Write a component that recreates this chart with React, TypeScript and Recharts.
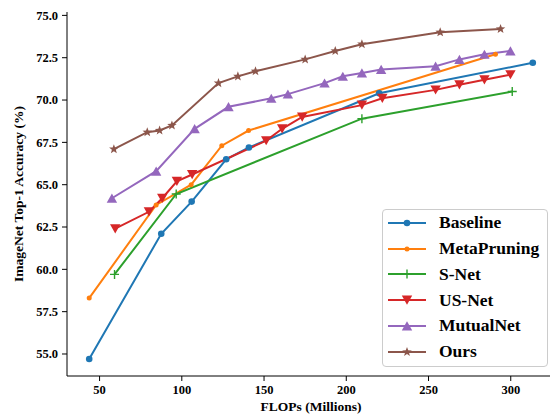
import React from 'react'
import { LineChart, Line, XAxis, YAxis, Legend, Label } from 'recharts'

const FONT = '"Liberation Serif", "Times New Roman", serif'

// FLOPs (Millions) / ImageNet top-1 (%)
const baselineFlops = [43.7, 87.5, 106, 127, 140.8, 220, 313.4]
const baselineAcc = [54.7, 62.1, 64.0, 66.5, 67.2, 70.4, 72.2]

const metaFlops = [43.7, 84.4, 105.7, 124.3, 140.6, 290.7]
const metaAcc = [58.3, 63.8, 65.0, 67.3, 68.2, 72.7]

const snetFlops = [59.1, 96.6, 209.5, 300.9]
const snetAcc = [59.7, 64.45, 68.9, 70.5]

const usnetFlops = [59.5, 80, 88.1, 97, 106.3, 151.3, 161, 173.2, 209.5, 221.9, 254.3, 268.8, 284, 299.8]
const usnetAcc = [62.4, 63.4, 64.2, 65.2, 65.6, 67.6, 68.3, 69.0, 69.7, 70.1, 70.6, 70.9, 71.2, 71.5]

const mutualFlops = [57.5, 84.4, 107.8, 128.4, 154.4, 164.5, 186.8, 197.9, 209.5, 221.2, 254.3, 268.8, 284, 299.8]
const mutualAcc = [64.2, 65.8, 68.3, 69.6, 70.1, 70.35, 71.0, 71.4, 71.6, 71.8, 72.0, 72.4, 72.7, 72.9]

const oursFlops = [58.7, 79, 86.5, 94, 122.3, 134.1, 144.8, 175, 193.3, 209.5, 257.1, 293.8]
const oursAcc = [67.1, 68.1, 68.2, 68.5, 71.0, 71.4, 71.7, 72.4, 72.9, 73.3, 74.0, 74.2]

const xTicks = [50, 100, 150, 200, 250, 300]
const yTicks = [55, 57.5, 60, 62.5, 65, 67.5, 70, 72.5, 75]

type Kind = 'circle' | 'dot' | 'plus' | 'down' | 'up' | 'star'

const zip = (xs: number[], ys: number[]) => xs.map((x, i) => ({ x, y: ys[i] }))

const series: { name: string; color: string; marker: Kind; data: { x: number; y: number }[] }[] = [
  { name: 'Baseline', color: '#1f77b4', marker: 'circle', data: zip(baselineFlops, baselineAcc) },
  { name: 'MetaPruning', color: '#ff7f0e', marker: 'dot', data: zip(metaFlops, metaAcc) },
  { name: 'S-Net', color: '#2ca02c', marker: 'plus', data: zip(snetFlops, snetAcc) },
  { name: 'US-Net', color: '#d62728', marker: 'down', data: zip(usnetFlops, usnetAcc) },
  { name: 'MutualNet', color: '#9467bd', marker: 'up', data: zip(mutualFlops, mutualAcc) },
  { name: 'Ours', color: '#8c564b', marker: 'star', data: zip(oursFlops, oursAcc) },
]

function Marker({ kind, cx, cy, color }: { kind: Kind; cx: number; cy: number; color: string }) {
  if (cx == null || cy == null) return null
  switch (kind) {
    case 'circle':
      return <circle cx={cx} cy={cy} r={3.3} fill={color} />
    case 'dot':
      return <circle cx={cx} cy={cy} r={2.5} fill={color} />
    case 'plus':
      return <path d={`M${cx - 4.5},${cy}H${cx + 4.5}M${cx},${cy - 4.5}V${cy + 4.5}`} stroke={color} strokeWidth={1.4} />
    case 'down':
      return <polygon points={`${cx - 5.2},${cy - 4.5} ${cx + 5.2},${cy - 4.5} ${cx},${cy + 4.7}`} fill={color} />
    case 'up':
      return <polygon points={`${cx - 5.2},${cy + 4.5} ${cx + 5.2},${cy + 4.5} ${cx},${cy - 4.7}`} fill={color} />
    case 'star': {
      const pts: string[] = []
      for (let i = 0; i < 10; i++) {
        const r = i % 2 === 0 ? 5 : 2.1
        const a = -Math.PI / 2 + (i * Math.PI) / 5
        pts.push(`${cx + r * Math.cos(a)},${cy + r * Math.sin(a)}`)
      }
      return <polygon points={pts.join(' ')} fill={color} />
    }
  }
  return null
}

function LegendBox() {
  return (
    <div
      style={{
        width: 166,
        height: 158,
        boxSizing: 'border-box',
        border: '1px solid #cccccc',
        borderRadius: 4,
        background: 'rgba(255,255,255,0.8)',
      }}
    >
      {series.map((s) => (
        <div key={s.name} style={{ display: 'flex', alignItems: 'center', height: 25.8 }}>
          <svg width={56} height={20} style={{ flexShrink: 0 }}>
            <line x1={5} x2={43} y1={10} y2={10} stroke={s.color} strokeWidth={2} />
            <Marker kind={s.marker} cx={24} cy={10} color={s.color} />
          </svg>
          <span style={{ fontFamily: FONT, fontWeight: 'bold', fontSize: 17.5, color: '#000', lineHeight: 1 }}>
            {s.name}
          </span>
        </div>
      ))}
    </div>
  )
}

const tickStyle = { fontFamily: FONT, fontWeight: 'bold' as const, fontSize: 12.5, fill: '#000' }

export default function App() {
  return (
    <div style={{ position: 'fixed', left: 0, top: 0, width: 550, height: 417, overflow: 'hidden', background: '#fff' }}>
      <LineChart width={570} height={417} margin={{ top: 12, right: 15, bottom: 0, left: 0 }}>
        <XAxis
          type="number"
          dataKey="x"
          domain={[30.2, 326.9]}
          ticks={xTicks}
          allowDataOverflow
          height={41}
          tick={tickStyle}
          tickSize={5}
          tickMargin={4}
          axisLine={{ stroke: '#000' }}
          tickLine={{ stroke: '#000' }}
        >
          <Label
            content={({ viewBox }: any) => (
              <text
                x={viewBox.x + viewBox.width / 2}
                y={viewBox.y + 35}
                textAnchor="middle"
                style={{ fontFamily: FONT, fontWeight: 'bold', fontSize: 13.5, fill: '#000' }}
              >
                FLOPs (Millions)
              </text>
            )}
          />
        </XAxis>
        <XAxis xAxisId="top" orientation="top" type="number" domain={[30.2, 326.9]} height={0} tick={false} tickLine={false} axisLine={{ stroke: '#000' }} />
        <YAxis
          type="number"
          domain={[53.7, 75.2]}
          ticks={yTicks}
          allowDataOverflow
          width={67}
          tick={tickStyle}
          tickSize={5}
          tickMargin={4}
          tickFormatter={(v: number) => v.toFixed(1)}
          axisLine={{ stroke: '#000' }}
          tickLine={{ stroke: '#000' }}
        >
          <Label
            content={({ viewBox }: any) => {
              const x = viewBox.x + 23
              const y = viewBox.y + viewBox.height / 2
              return (
                <text
                  x={x}
                  y={y}
                  textAnchor="middle"
                  transform={`rotate(-90 ${x} ${y})`}
                  style={{ fontFamily: FONT, fontWeight: 'bold', fontSize: 13.5, fill: '#000' }}
                >
                  ImageNet Top-1 Accuracy (%)
                </text>
              )
            }}
          />
        </YAxis>
        <YAxis yAxisId="right" orientation="right" domain={[53.7, 75.2]} width={0} tick={false} tickLine={false} axisLine={{ stroke: '#000' }} />
        {series.map((s) => (
          <Line
            key={s.name}
            data={s.data}
            dataKey="y"
            name={s.name}
            stroke={s.color}
            strokeWidth={2}
            isAnimationActive={false}
            dot={(p: any) => <Marker key={`${s.name}-${p.index}`} kind={s.marker} cx={p.cx} cy={p.cy} color={s.color} />}
            activeDot={false}
          />
        ))}
        <Legend
          layout="horizontal"
          verticalAlign="middle"
          content={() => <LegendBox />}
          wrapperStyle={{ left: 382, top: 209, width: 166, height: 158 }}
        />
      </LineChart>
    </div>
  )
}
